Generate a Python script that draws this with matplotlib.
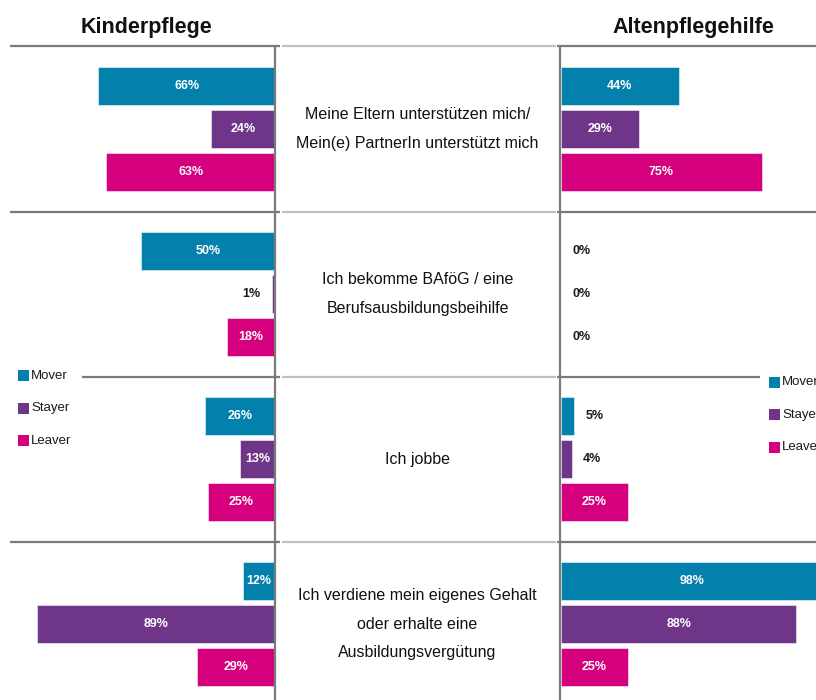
import matplotlib
matplotlib.use("Agg")
import matplotlib.pyplot as plt
from matplotlib.patches import Rectangle
from matplotlib import font_manager

# ---- data -------------------------------------------------------------
categories = [
    "Meine Eltern unterstützen mich/\nMein(e) PartnerIn unterstützt mich",
    "Ich bekomme BAföG / eine\nBerufsausbildungsbeihilfe",
    "Ich jobbe",
    "Ich verdiene mein eigenes Gehalt\noder erhalte eine\nAusbildungsvergütung",
]
series = ["Mover", "Stayer", "Leaver"]
colors = ["#0380AB", "#6F3588", "#D5007D"]

kinder_mover = [66, 50, 26, 12]
kinder_stayer = [24, 1, 13, 89]
kinder_leaver = [63, 18, 25, 29]

alten_mover = [44, 0, 5, 98]
alten_stayer = [29, 0, 4, 88]
alten_leaver = [75, 0, 25, 25]

panel_titles = ["Kinderpflege", "Altenpflegehilfe"]

# ---- fonts ------------------------------------------------------------
available = {f.name for f in font_manager.fontManager.ttflist}
FONT = "Liberation Sans" if "Liberation Sans" in available else "DejaVu Sans"
plt.rcParams["font.family"] = [FONT, "DejaVu Sans"]

# ---- layout -----------------------------------------------------------
W, H = 816, 700
PX_PER_PCT = 2.675
LEFT_ZERO = 275
RIGHT_ZERO = 561
GROUP_PX = 165.0
FIRST_CENTER = 129.0
Y_TOP = -FIRST_CENTER / GROUP_PX
Y_BOT = (H - FIRST_CENTER) / GROUP_PX
OFFSETS = [-0.262, 0.0, 0.262]
BAR_H = 0.232

DARK = "#7a7a7a"
LIGHT = "#c0c0c0"

fig = plt.figure(figsize=(W / 100, H / 100), dpi=100)
fig.patch.set_facecolor("white")

span = 100 * PX_PER_PCT
ax_l = fig.add_axes([(LEFT_ZERO - span) / W, 0, span / W, 1])
ax_r = fig.add_axes([RIGHT_ZERO / W, 0, span / W, 1])
ax_m = fig.add_axes([LEFT_ZERO / W, 0, (560 - LEFT_ZERO) / W, 1])

ax_l.set_xlim(100, 0)
ax_r.set_xlim(0, 100)
ax_m.set_xlim(0, 1)
for ax in (ax_l, ax_r, ax_m):
    ax.set_ylim(Y_BOT, Y_TOP)
    ax.axis("off")
    ax.patch.set_visible(False)

groups = range(len(categories))


def draw_panel(ax, values_by_series):
    for s, (vals, col, off) in enumerate(zip(values_by_series, colors, OFFSETS)):
        ys = [g + off for g in groups]
        ax.barh(ys, vals, height=BAR_H, color=col, edgecolor=(1, 1, 1, 0.6),
                linewidth=0.6, zorder=2)
        for y, v in zip(ys, vals):
            if v >= 10:
                ax.text(v / 2, y, f"{v}%", ha="center", va="center",
                        color="white", fontsize=9, fontweight="bold", zorder=3)
            else:
                ax.text(v + 7.7, y, f"{v}%", ha="center", va="center",
                        color="#1a1a1a", fontsize=9, fontweight="bold", zorder=3)


draw_panel(ax_l, [kinder_mover, kinder_stayer, kinder_leaver])
draw_panel(ax_r, [alten_mover, alten_stayer, alten_leaver])

# row separators
def px_left(p):
    return (LEFT_ZERO - p) / PX_PER_PCT


def px_right(p):
    return (p - RIGHT_ZERO) / PX_PER_PCT


for g in groups:
    y = g - 0.5
    l_start = 82 if g == 2 else 10
    r_end = 760 if g == 2 else W + 5
    ax_l.plot([px_left(l_start), px_left(280)], [y, y], color=DARK, lw=1.6,
              clip_on=False, zorder=1, solid_capstyle="butt")
    ax_r.plot([px_right(557), px_right(r_end)], [y, y], color=DARK, lw=1.6,
              clip_on=False, zorder=1, solid_capstyle="butt")
    ax_m.plot([7 / 285, 281 / 285], [y, y], color=LIGHT, lw=1.6,
              zorder=1, solid_capstyle="butt")

# category texts in the middle column
for g, cat in zip(groups, categories):
    ax_m.text(0.5, g, cat, ha="center", va="center", fontsize=11.5,
              color="#111111", linespacing=2.1)

# vertical axis lines
for x in (0, 1):
    ax_m.plot([x, x], [-0.5, Y_BOT], color=DARK, lw=1.6, clip_on=False,
              zorder=5, solid_capstyle="butt")

# panel titles
fig.text(146 / W, 1 - 27 / H, panel_titles[0], ha="center", va="center",
         fontsize=15.5, fontweight="bold", color="#111111")
fig.text(693 / W, 1 - 27 / H, panel_titles[1], ha="center", va="center",
         fontsize=15.5, fontweight="bold", color="#111111")

# legends
def draw_legend(x_px, y_px, step):
    for i, (name, col) in enumerate(zip(series, colors)):
        yc = y_px + i * step
        fig.add_artist(Rectangle((x_px / W, 1 - (yc + 5.5) / H), 11 / W, 11 / H,
                                 transform=fig.transFigure, facecolor=col,
                                 edgecolor="none"))
        fig.text((x_px + 13) / W, 1 - yc / H, name, ha="left", va="center",
                 fontsize=9.5, color="#1a1a1a")


draw_legend(18, 375.5, 32.5)
draw_legend(769, 382, 32.5)

fig.savefig("out.png", dpi=100, facecolor="white")
